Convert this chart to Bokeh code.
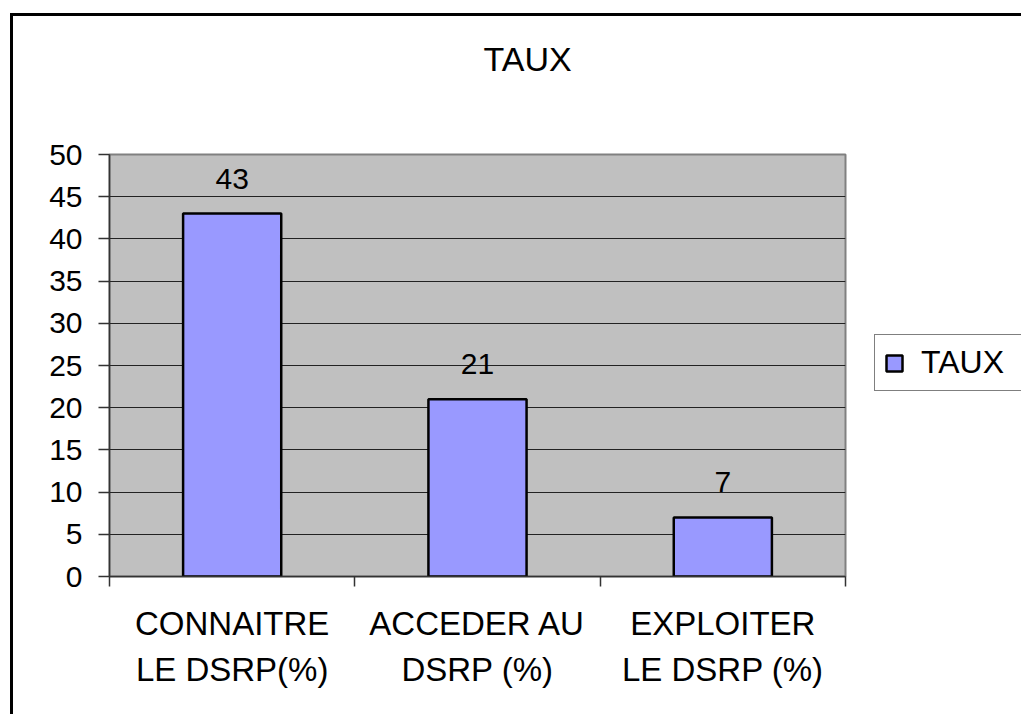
from bokeh.plotting import figure
from bokeh.models import (FactorRange, Range1d, LinearAxis, CategoricalAxis, FixedTicker,
                          SingleIntervalTicker, ColumnDataSource, LabelSet, Legend,
                          LegendItem)
from bokeh.core.properties import value
from bokeh.embed import file_html
from bokeh.resources import INLINE

# ---- data ----
categories = ["CONNAITRE\nLE DSRP(%)", "ACCEDER AU\nDSRP (%)", "EXPLOITER\nLE DSRP (%)"]
values = [43, 21, 7]
series_name = "TAUX"
title_text = "TAUX"
y_max = 50
y_step = 5

FONT = "Liberation Sans"

src = ColumnDataSource(data=dict(cat=categories, val=values, lbl=[str(v) for v in values]))

p = figure(frame_width=736, frame_height=422,
           x_range=FactorRange(*categories, range_padding=0, factor_padding=0),
           y_range=Range1d(0, y_max),
           output_backend="svg", toolbar_location=None, x_axis_location=None,
           min_border_left=109, min_border_right=176, min_border_top=154, min_border_bottom=138)

p.background_fill_color = "#C0C0C0"
p.border_fill_color = None
p.outline_line_color = "#808080"
p.outline_line_width = 2
# outer chart border (left and top edges visible, the rest runs off the picture)
p.styles = {"box-shadow": "inset 10px 13px 0 0 white, inset 13px 16px 0 0 black",
            "background-color": "white"}

# title (trailing empty line lifts it towards the top of the chart area)
p.title.text = title_text + "\n"
p.title.align = "left"
p.title.offset = 374
p.title.vertical_align = "top"
p.title.standoff = 74
p.title.text_font_size = "34px"
p.title.text_font = FONT
p.title.text_font_style = "normal"
p.title.text_color = "black"

# y axis
yt = SingleIntervalTicker(interval=y_step, num_minor_ticks=0)
p.yaxis.ticker = yt
p.yaxis.major_tick_out = 11
p.yaxis.major_tick_in = 0
p.yaxis.minor_tick_line_color = None
p.yaxis.major_label_standoff = 16
p.yaxis.major_label_text_font_size = "30px"
p.yaxis.major_label_text_font = FONT
p.yaxis.major_label_text_color = "black"
p.yaxis.axis_line_color = "#333333"
p.yaxis.axis_line_width = 1.5
p.yaxis.major_tick_line_color = "#333333"
p.yaxis.major_tick_line_width = 1.5

p.xgrid.grid_line_color = None
p.ygrid.ticker = yt
p.ygrid.grid_line_color = "#222222"
p.ygrid.grid_line_width = 1

# boundary ticks between categories (synthetic coordinates 0..n of the factor range)
edge_ticks = list(range(len(categories) + 1))
edge_axis = LinearAxis(ticker=FixedTicker(ticks=edge_ticks),
                       major_label_overrides={t: "" for t in edge_ticks},
                       major_label_text_font_size="1px", major_label_standoff=0,
                       major_tick_in=0, major_tick_out=10,
                       minor_tick_line_color=None,
                       axis_line_color="#333333", axis_line_width=1.5,
                       major_tick_line_color="#333333", major_tick_line_width=1.5)
p.add_layout(edge_axis, "below")

cat_axis = CategoricalAxis(axis_line_color=None, major_tick_line_color=None,
                           major_tick_in=0, major_tick_out=0,
                           major_label_standoff=18,
                           major_label_text_font_size="33px",
                           major_label_text_font=FONT,
                           major_label_text_color="black",
                           major_label_text_line_height=1.27)
p.add_layout(cat_axis, "below")

bars = p.vbar(x="cat", top="val", width=0.4, source=src,
              fill_color="#9999FF", line_color="black", line_width=2.5)

labels = LabelSet(x="cat", y="val", text="lbl", source=src, y_offset=25,
                  text_align="center", text_baseline="alphabetic",
                  text_font_size="30px", text_font=value(FONT), text_color="black")
p.add_layout(labels)

legend = Legend(items=[LegendItem(label=series_name, renderers=[bars])],
                location=(29, 185), margin=0, padding=9,
                border_line_color="black", border_line_width=1,
                background_fill_color="white",
                glyph_width=20, glyph_height=20, label_standoff=17,
                label_text_font_size="32px", label_text_font=FONT,
                label_text_color="black",
                label_width=100)
p.add_layout(legend, "right")

open("out.html", "w").write(file_html(p, INLINE))
